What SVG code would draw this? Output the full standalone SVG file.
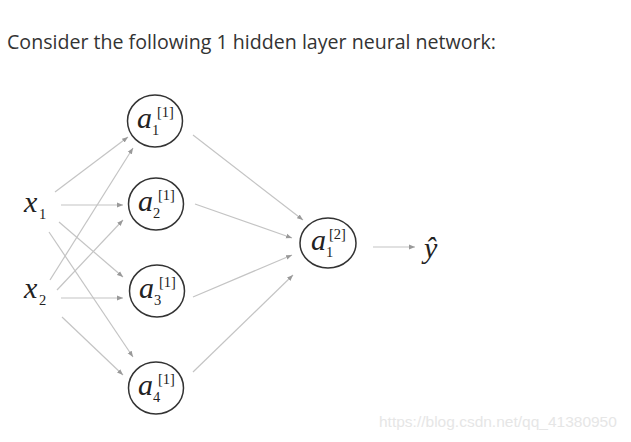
<svg xmlns="http://www.w3.org/2000/svg" width="631" height="442" viewBox="0 0 631 442">
<style>
.title{font-family:"Open Sans",sans-serif;font-size:19.6px;fill:#333}
.node{fill:#fff;stroke:#333;stroke-width:1.5}
.m{font-family:"Liberation Serif","DejaVu Serif",serif;font-style:italic;font-size:30px;fill:#222}
.s{font-family:"Liberation Serif","DejaVu Serif",serif;font-size:14.5px;fill:#222}
.e{stroke:#c4c4c4;stroke-width:1.2;fill:none;marker-end:url(#ah)}
.wm{font-family:"Liberation Sans",Arial,sans-serif;font-size:15.5px;fill:#e6e6e6}
</style>
<defs>
<marker id="ah" viewBox="0 0 10 10" refX="10" refY="5" markerWidth="5" markerHeight="5" orient="auto" markerUnits="strokeWidth">
<path d="M0,1 L10,5 L0,9 z" fill="#999"/>
</marker>
</defs>
<rect width="631" height="442" fill="#fff"/>
<text class="title" x="7" y="49">Consider the following 1 hidden layer neural network:</text>
<g id="connectors">
<line class="e" x1="55" y1="192" x2="128" y2="137"/>
<line class="e" x1="61" y1="205" x2="123" y2="205"/>
<line class="e" x1="59" y1="222" x2="123" y2="277"/>
<line class="e" x1="49" y1="232" x2="133" y2="357"/>
<line class="e" x1="50" y1="280" x2="133" y2="148"/>
<line class="e" x1="57" y1="290" x2="123" y2="220"/>
<line class="e" x1="61" y1="298" x2="123" y2="298"/>
<line class="e" x1="62" y1="317" x2="123" y2="375"/>
<line class="e" x1="193" y1="135" x2="303" y2="220"/>
<line class="e" x1="195" y1="204" x2="292" y2="238"/>
<line class="e" x1="193" y1="297" x2="292" y2="255"/>
<line class="e" x1="193" y1="372" x2="293" y2="275"/>
<line class="e" x1="373" y1="247" x2="415" y2="247"/>
</g>
<g id="x1"><text class="m" x="24" y="212">x</text><text class="s" x="39" y="219">1</text></g>
<g id="x2"><text class="m" x="24" y="298">x</text><text class="s" x="39" y="305">2</text></g>
<g id="a1_1"><ellipse class="node" cx="155" cy="121" rx="27.5" ry="26"/><text class="m" x="137" y="128">a</text><text class="s" x="157" y="117">[1]</text><text class="s" x="152" y="135">1</text></g>
<g id="a1_2"><ellipse class="node" cx="156" cy="204" rx="27.5" ry="26"/><text class="m" x="138" y="211">a</text><text class="s" x="158" y="200">[1]</text><text class="s" x="153" y="218">2</text></g>
<g id="a1_3"><ellipse class="node" cx="157" cy="291" rx="27.5" ry="26"/><text class="m" x="139" y="298">a</text><text class="s" x="159" y="287">[1]</text><text class="s" x="154" y="305">3</text></g>
<g id="a1_4"><ellipse class="node" cx="156" cy="388" rx="27.5" ry="26"/><text class="m" x="138" y="395">a</text><text class="s" x="158" y="384">[1]</text><text class="s" x="153" y="402">4</text></g>
<g id="a2_1"><ellipse class="node" cx="328" cy="243" rx="28" ry="25"/><text class="m" x="311" y="250">a</text><text class="s" x="329" y="239">[2]</text><text class="s" x="326" y="257">1</text></g>
<g id="yhat"><text class="m" x="424" y="258" font-size="32">ŷ</text></g>
<text class="wm" x="379" y="427">https://blog.csdn.net/qq_41380950</text>
</svg>
